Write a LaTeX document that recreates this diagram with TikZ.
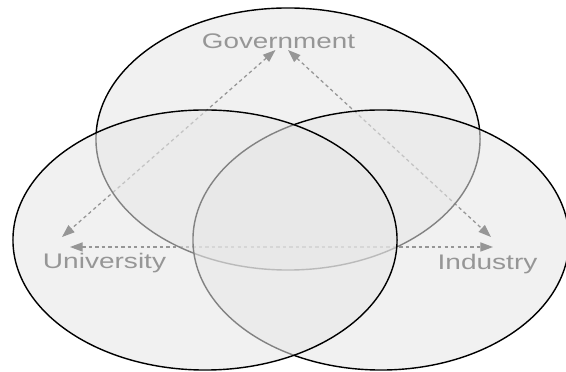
\documentclass[tikz,border=0pt]{standalone}
\usepackage{fontspec}
\setmainfont{Liberation Sans}
\usetikzlibrary{arrows.meta}
\definecolor{ink}{RGB}{45,45,45}
\definecolor{veil}{RGB}{230,230,230}
\begin{document}
\begin{tikzpicture}[x=0.025cm, y=-0.025cm,
    tag/.style={text=ink, anchor=base, inner sep=0pt, font=\fontsize{15}{18}\selectfont},
    link/.style={draw=ink, line width=0.9pt, dash pattern=on 2.4pt off 2.2pt,
      {Triangle[length=9pt, width=6.5pt]}-{Triangle[length=9pt, width=6.5pt]}},
    sector/.style={draw=black, line width=1pt, fill=veil, fill opacity=0.57}]
    \useasboundingbox (0, 0) rectangle (566, 372);

    % labels and links sit under the ellipses
    \node[tag] (gov) at (278.5, 49) {\scalebox{1.32}[1]{Government}};
    \node[tag] (uni) at (104.5, 269) {\scalebox{1.33}[1]{University}};
    \node[tag] (ind) at (487.5, 270) {\scalebox{1.33}[1]{Industry}};

    \coordinate (gov-uni) at (275.5, 50);
    \coordinate (gov-ind) at (288, 50);
    \coordinate (uni-gov) at (62, 237);
    \coordinate (uni-ind) at (70, 247);
    \coordinate (ind-gov) at (491, 237);
    \coordinate (ind-uni) at (493, 247);

    \draw[link] (gov-uni) -- (uni-gov);
    \draw[link] (gov-ind) -- (ind-gov);
    \draw[link] (uni-ind) -- (ind-uni);

    % the three spheres
    \draw[sector] (288, 139) ellipse [x radius=4.8cm, y radius=3.275cm];
    \draw[sector] (381, 240) ellipse [x radius=4.7cm, y radius=3.25cm];
    \draw[sector] (205, 240) ellipse [x radius=4.8cm, y radius=3.25cm];
  \end{tikzpicture}
\end{document}
